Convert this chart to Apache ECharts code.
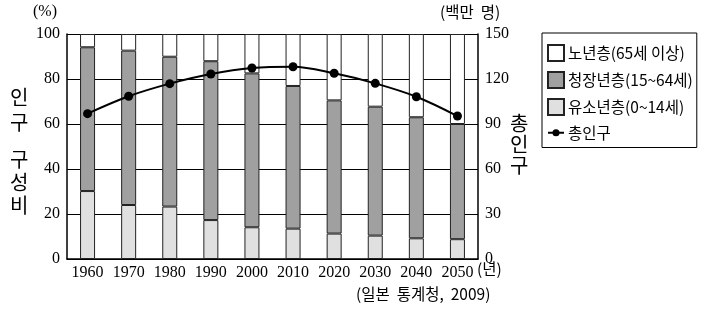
<!DOCTYPE html>
<html>
<head>
<meta charset="utf-8">
<script src="https://cdn.jsdelivr.net/npm/echarts@6/dist/echarts.min.js"></script>
<style>
  html, body { margin: 0; padding: 0; background: #fff; }
  #chart { width: 712px; height: 310px; }
</style>
</head>
<body>
<div id="chart"></div>
<script>
// 연도
const years = ['1960', '1970', '1980', '1990', '2000', '2010', '2020', '2030', '2040', '2050'];
// 인구 구성비 (%)
const youngShare = [30.2, 24.0, 23.3, 17.3, 14.1, 13.5, 11.3, 10.4, 9.2, 8.8];
const workingShare = [63.9, 68.6, 66.6, 70.6, 68.4, 63.4, 59.2, 57.3, 53.8, 51.2];
const elderlyShare = [5.9, 7.4, 10.1, 12.1, 17.5, 23.1, 29.5, 32.3, 37.0, 40.0];
// 총인구 (백만 명)
const totalPop = [96.9, 108.5, 116.9, 123.3, 127.3, 128.2, 123.8, 117.1, 108.2, 95.3];

const serif = 'Liberation Serif';
const kor = 'Noto Sans CJK KR';

const chart = echarts.init(document.getElementById('chart'));

const barStyle = function (color) {
  return { color: color, borderColor: '#222', borderWidth: 1 };
};

const option = {
  animation: false,
  backgroundColor: '#fff',
  grid: { left: 67, right: 234, top: 34, bottom: 51 },
  legend: {
    orient: 'vertical',
    left: 542,
    top: 33,
    padding: [11, 4, 7, 5],
    itemGap: 9,
    itemWidth: 16,
    itemHeight: 16,
    icon: 'rect',
    borderColor: '#000',
    borderWidth: 1,
    textStyle: { fontFamily: kor, fontSize: 15.5, color: '#000', padding: [0, 0, 0, -1] },
    data: [
      '노년층(65세 이상)',
      '청장년층(15~64세)',
      '유소년층(0~14세)',
      { name: '총인구', icon: 'path://M0,0L0,0M18,16L18,16M0,7L18,7L18,9L0,9ZM13,8A4,4 0 1,1 5,8A4,4 0 1,1 13,8Z' }
    ]
  },
  xAxis: {
    type: 'category',
    data: years,
    axisLine: { lineStyle: { color: '#000', width: 1.5 } },
    axisTick: { show: false },
    axisLabel: { interval: 0, fontFamily: serif, fontSize: 16, color: '#000', margin: 6 }
  },
  yAxis: [
    {
      type: 'value',
      min: 0,
      max: 100,
      interval: 20,
      axisLine: { show: true, lineStyle: { color: '#000', width: 1.5 } },
      axisTick: { show: false },
      axisLabel: { fontFamily: serif, fontSize: 16, color: '#000', margin: 7 },
      splitLine: { lineStyle: { color: '#000', width: 1 } }
    },
    {
      type: 'value',
      min: 0,
      max: 150,
      interval: 30,
      position: 'right',
      axisLine: { show: true, lineStyle: { color: '#000', width: 1.5 } },
      axisTick: { show: false },
      axisLabel: { fontFamily: serif, fontSize: 16, color: '#000', margin: 7 },
      splitLine: { show: false }
    }
  ],
  series: [
    {
      name: '유소년층(0~14세)',
      type: 'bar',
      stack: 'share',
      barWidth: 15,
      itemStyle: barStyle('#e0e0e0'),
      data: youngShare
    },
    {
      name: '청장년층(15~64세)',
      type: 'bar',
      stack: 'share',
      barWidth: 15,
      itemStyle: barStyle('#a0a0a0'),
      data: workingShare
    },
    {
      name: '노년층(65세 이상)',
      type: 'bar',
      stack: 'share',
      barWidth: 15,
      itemStyle: barStyle('#ffffff'),
      data: elderlyShare
    },
    {
      name: '총인구',
      type: 'line',
      yAxisIndex: 1,
      smooth: 0.35,
      symbol: 'circle',
      symbolSize: 9,
      lineStyle: { color: '#000', width: 2 },
      itemStyle: { color: '#000' },
      z: 5,
      data: totalPop
    }
  ],
  graphic: [
    { type: 'text', left: 33, top: 4, style: { text: '(%)', font: '16px ' + serif, fill: '#000' } },
    { type: 'text', left: 440, top: 4, style: { text: '(백만  명)', font: '15.5px ' + kor, fill: '#000' } },
    { type: 'text', left: 10, top: 85, style: { text: '인\n구', font: '20px ' + kor, fill: '#000', lineHeight: 25 } },
    { type: 'text', left: 10, top: 148, style: { text: '구\n성\n비', font: '20px ' + kor, fill: '#000', lineHeight: 23 } },
    { type: 'text', left: 510, top: 113, style: { text: '총\n인\n구', font: '20px ' + kor, fill: '#000', lineHeight: 21 } },
    { type: 'text', left: 477, top: 261, style: { text: '(년)', font: '15.5px ' + kor, fill: '#000' } },
    { type: 'text', left: 356, top: 286, style: { text: '(일본  통계청,  2009)', font: '15.5px ' + kor, fill: '#000' } }
  ]
};

chart.setOption(option);
</script>
</body>
</html>
